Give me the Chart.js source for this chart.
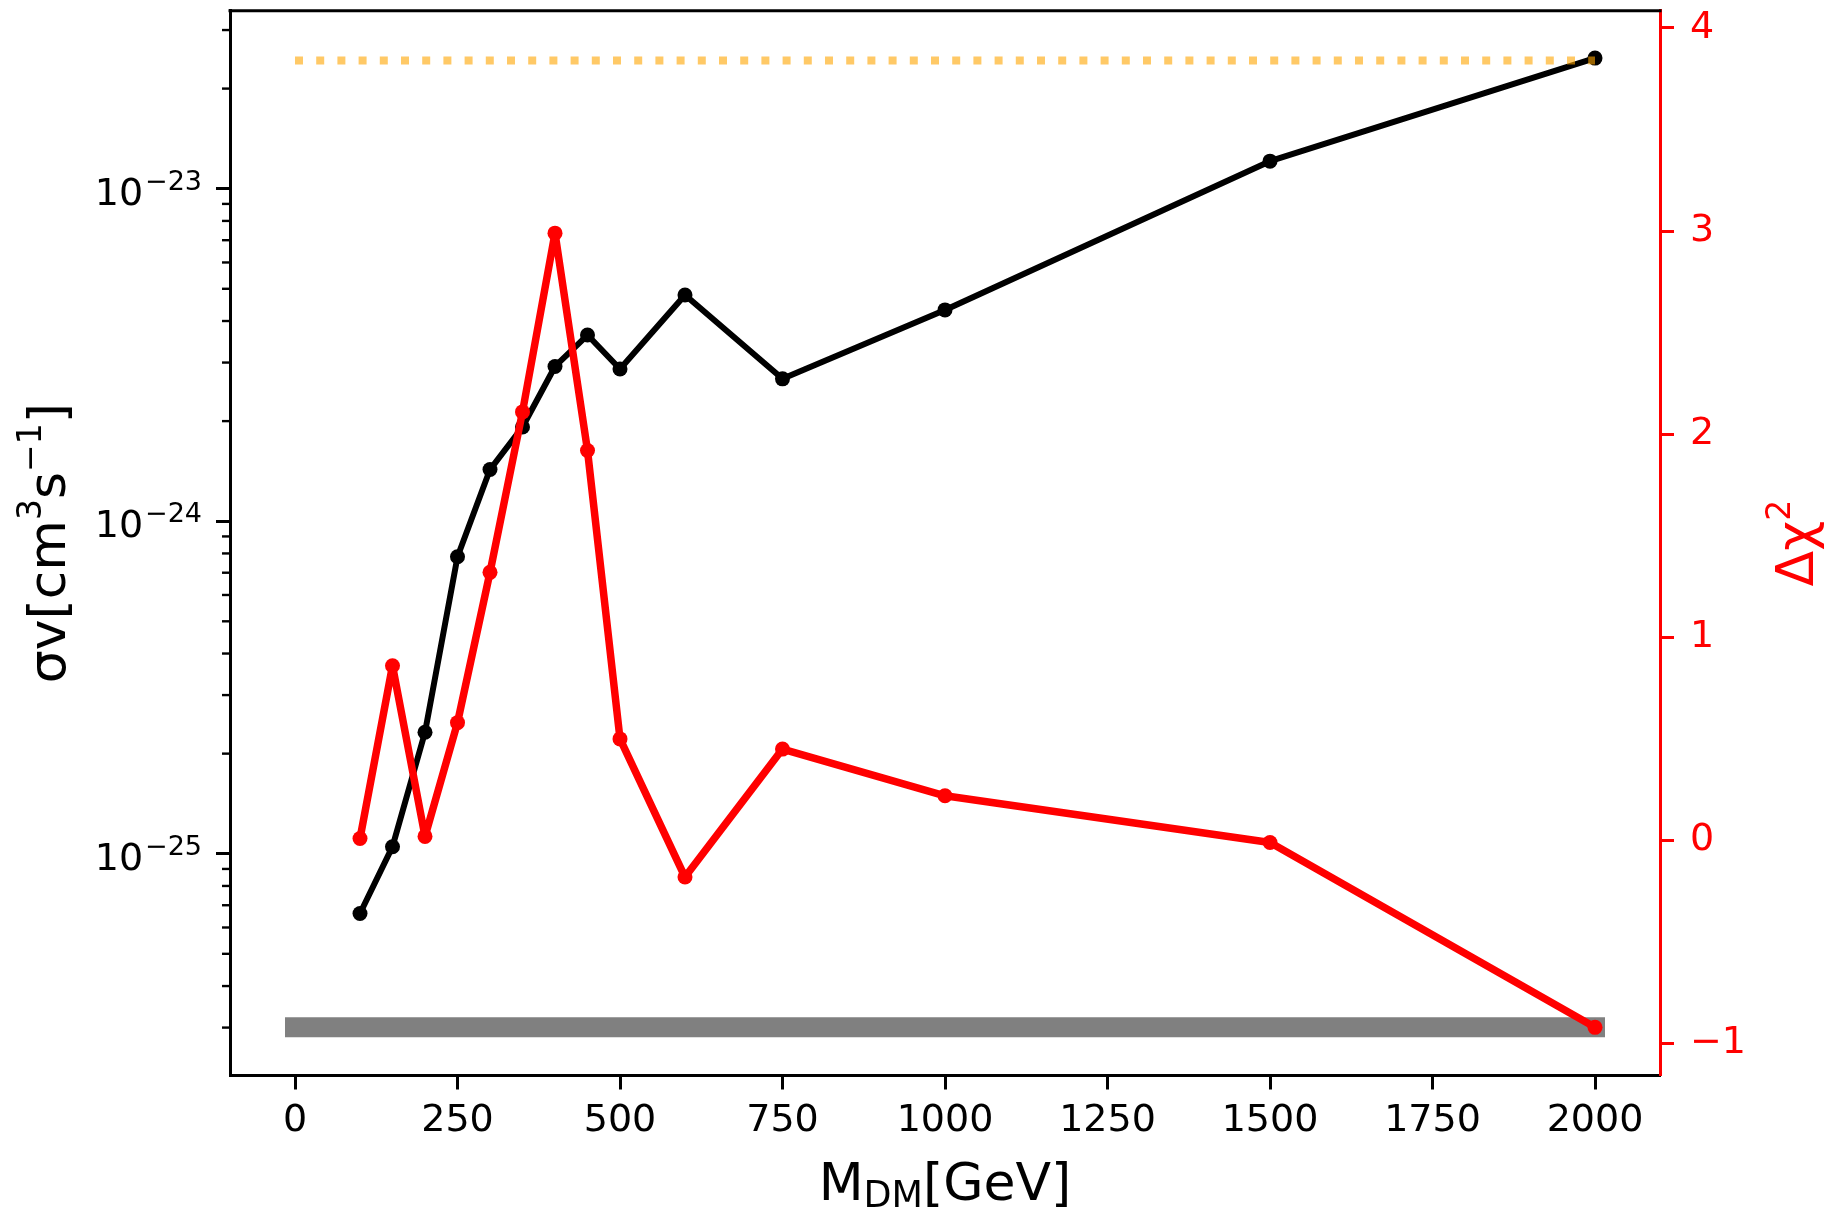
<!DOCTYPE html>
<html lang="en">
<head>
  <meta charset="UTF-8" />
  <title>σv and Δχ² vs M_DM</title>
  <script src="https://cdn.jsdelivr.net/npm/chart.js"></script>
  <style>
    html, body { margin: 0; padding: 0; background: #fff; }
  </style>
</head>
<body>
  <canvas id="dmChart" width="1841" height="1208"></canvas>

  <script>
    // dark matter masses [GeV]
    const masses = [100, 150, 200, 250, 300, 350, 400, 450, 500, 600, 750, 1000, 1500, 2000];
    // best-fit annihilation cross section [cm^3 s^-1]
    const sigmaV = [6.61e-26, 1.05e-25, 2.32e-25, 7.82e-25, 1.43e-24, 1.92e-24, 2.92e-24,
                    3.63e-24, 2.87e-24, 4.79e-24, 2.68e-24, 4.32e-24, 1.21e-23, 2.47e-23];
    // delta chi^2 of the fit
    const deltaChi2 = [0.01, 0.86, 0.02, 0.58, 1.32, 2.11, 2.99, 1.92, 0.50, -0.18, 0.45, 0.22, -0.01, -0.92];

    // horizontal reference lines (drawn against the delta chi^2 axis)
    const refMass = [0, 2000];
    const chi2Threshold = 3.84;
    const chi2Floor = -0.92;

    // tick positions
    const massTicks = [0, 250, 500, 750, 1000, 1250, 1500, 1750, 2000];
    const sigmaTicks = [1e-25, 1e-24, 1e-23];
    const chi2Ticks = [-1, 0, 1, 2, 3, 4];

    const FAMILY = "'DejaVu Sans', 'Liberation Sans', sans-serif";
    Chart.defaults.font.family = FAMILY;

    const toPoints = (xs, ys) => xs.map((x, i) => ({ x: x, y: ys[i] }));
    const flat = (xs, v) => xs.map(x => ({ x: x, y: v }));

    // draws a row of text pieces [text, size, baseline shift] on one baseline
    function richText(ctx, parts, x, y, align) {
      let total = 0;
      const widths = parts.map(p => {
        ctx.font = p[1] + "px " + FAMILY;
        const w = ctx.measureText(p[0]).width;
        total += w;
        return w;
      });
      let cx = align === "center" ? x - total / 2 : align === "right" ? x - total : x;
      parts.forEach((p, i) => {
        ctx.font = p[1] + "px " + FAMILY;
        ctx.fillText(p[0], cx, y + p[2]);
        cx += widths[i];
      });
    }

    const axisDecor = {
      id: "axisDecor",
      afterDraw(chart) {
        const { ctx, chartArea: a, scales } = chart;
        const ys = scales.y;
        ctx.save();

        // top spine
        ctx.strokeStyle = "#000";
        ctx.lineWidth = 3;
        ctx.beginPath();
        ctx.moveTo(a.left - 1.5, a.top);
        ctx.lineTo(a.right + 1.5, a.top);
        ctx.stroke();

        // minor ticks of the log axis
        ctx.lineWidth = 2.4;
        const lo = Math.floor(Math.log10(ys.min));
        const hi = Math.ceil(Math.log10(ys.max));
        for (let e = lo; e < hi; e++) {
          for (let m = 2; m <= 9; m++) {
            const v = m * Math.pow(10, e);
            if (v < ys.min || v > ys.max) continue;
            const py = ys.getPixelForValue(v);
            ctx.beginPath();
            ctx.moveTo(a.left - 8, py);
            ctx.lineTo(a.left, py);
            ctx.stroke();
          }
        }

        // log axis labels 10^n
        ctx.fillStyle = "#000";
        ctx.textBaseline = "alphabetic";
        sigmaTicks.forEach(v => {
          const py = ys.getPixelForValue(v);
          const ex = Math.round(Math.log10(v));
          const sup = (ex < 0 ? "\u2212" : "") + Math.abs(ex);
          richText(ctx, [["10", 38, 0], [" ", 6, 0], [sup, 27, -15]], a.left - 28, py + 16, "right");
        });

        // left axis title
        ctx.save();
        ctx.translate(65, (a.top + a.bottom) / 2);
        ctx.rotate(-Math.PI / 2);
        richText(ctx, [["σv[cm", 52, 0], ["3", 33, -24], ["s", 52, 0], ["\u22121", 33, -24], ["]", 52, 0]], 0, 0, "center");
        ctx.restore();

        // right axis title
        ctx.save();
        ctx.fillStyle = "#ff0000";
        ctx.translate(1813, (a.top + a.bottom) / 2);
        ctx.rotate(-Math.PI / 2);
        richText(ctx, [["Δχ", 52, 0], ["2", 33, -23]], 0, 0, "center");
        ctx.restore();

        // bottom axis title
        richText(ctx, [["M", 52, 0], ["DM", 36.4, 7], ["[GeV]", 52, 0]], (a.left + a.right) / 2, 1200, "center");

        ctx.restore();
      }
    };

    const tickFont = { family: FAMILY, size: 38 };

    new Chart(document.getElementById("dmChart"), {
      type: "line",
      data: {
        datasets: [
          {
            label: "σv",
            data: toPoints(masses, sigmaV),
            yAxisID: "y",
            borderColor: "#000000",
            backgroundColor: "#000000",
            borderWidth: 6,
            borderJoinStyle: "round",
            borderCapStyle: "round",
            pointRadius: 7.5,
            pointBorderWidth: 0,
            tension: 0,
            order: 4
          },
          {
            label: "min Δχ²",
            data: flat(refMass, chi2Floor),
            yAxisID: "y2",
            borderColor: "#808080",
            borderWidth: 20,
            borderCapStyle: "square",
            pointRadius: 0,
            order: 3
          },
          {
            label: "Δχ²",
            data: toPoints(masses, deltaChi2),
            yAxisID: "y2",
            borderColor: "#ff0000",
            backgroundColor: "#ff0000",
            borderWidth: 7.5,
            borderJoinStyle: "round",
            borderCapStyle: "round",
            pointRadius: 7.5,
            pointBorderWidth: 0,
            tension: 0,
            order: 2
          },
          {
            label: "95% CL",
            data: flat(refMass, chi2Threshold),
            yAxisID: "y2",
            borderColor: "rgba(255, 165, 0, 0.6)",
            borderWidth: 8,
            borderDash: [8, 13.2],
            borderCapStyle: "butt",
            pointRadius: 0,
            order: 1
          }
        ]
      },
      options: {
        responsive: false,
        animation: false,
        devicePixelRatio: 1,
        layout: { padding: { top: 10.7, left: 0, right: 0, bottom: 0 } },
        plugins: {
          legend: { display: false },
          tooltip: { enabled: false }
        },
        scales: {
          x: {
            type: "linear",
            min: -100,
            max: 2100,
            bounds: "data",
            afterBuildTicks: s => { s.ticks = massTicks.map(v => ({ value: v })); },
            afterFit: s => { s.height = 132.5; s.paddingLeft = 0; s.paddingRight = 0; },
            grid: { display: true, drawOnChartArea: false, drawTicks: true, tickLength: 14, tickWidth: 3, tickColor: "#000" },
            border: { display: true, color: "#000", width: 3 },
            ticks: {
              color: "#000",
              font: tickFont,
              padding: 9,
              maxRotation: 0,
              autoSkip: false,
              callback: v => String(v)
            }
          },
          y: {
            type: "logarithmic",
            position: "left",
            min: 2.153e-26,
            max: 3.43e-23,
            bounds: "data",
            afterBuildTicks: s => { s.ticks = sigmaTicks.map(v => ({ value: v })); },
            afterFit: s => { s.width = 230; s.paddingTop = 0; s.paddingBottom = 0; },
            grid: { display: true, drawOnChartArea: false, drawTicks: true, tickLength: 14, tickWidth: 3, tickColor: "#000" },
            border: { display: true, color: "#000", width: 3 },
            ticks: { display: false }
          },
          y2: {
            type: "linear",
            position: "right",
            min: -1.157,
            max: 4.085,
            bounds: "data",
            afterBuildTicks: s => { s.ticks = chi2Ticks.map(v => ({ value: v })); },
            afterFit: s => { s.width = 181; s.paddingTop = 0; s.paddingBottom = 0; },
            grid: { display: true, drawOnChartArea: false, drawTicks: true, tickLength: 14, tickWidth: 3, tickColor: "#ff0000" },
            border: { display: true, color: "#ff0000", width: 3 },
            ticks: {
              color: "#ff0000",
              font: tickFont,
              padding: 16,
              callback: v => String(v).replace("-", "\u2212")
            }
          }
        }
      },
      plugins: [axisDecor]
    });
  </script>
</body>
</html>
